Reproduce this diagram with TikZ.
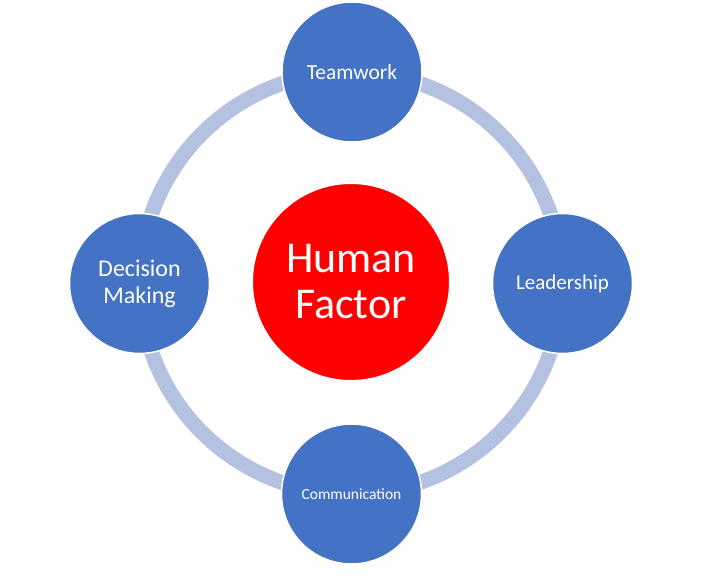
\documentclass[tikz,border=0pt]{standalone}
\usepackage{fontspec}
\setmainfont{Carlito}
\definecolor{satblue}{HTML}{4472C4}
\definecolor{ringblue}{HTML}{B4C1E1}
\definecolor{hfred}{HTML}{FF0000}
\tikzset{
  sat/.style={circle, fill=satblue, draw=white, line width=1.5pt, minimum size=140pt, inner sep=0pt, text=white, align=center},
  core/.style={circle, fill=hfred, draw=white, line width=1pt, minimum size=197pt, inner sep=0pt, text=white, align=center},
  ringline/.style={draw=ringblue, line width=15pt}
}
\begin{document}
\begin{tikzpicture}[x=1pt,y=-1pt]
\useasboundingbox[fill=white] (0,0) rectangle (725,586);
\coordinate (ctr) at (351,283);
\draw[ringline] (ctr) circle[radius=211];
\node[core, font=\fontsize{44}{46}\selectfont] (hf) at (351,282) {Human\\Factor};
\node[sat, font=\fontsize{21.5}{24}\selectfont] (tw) at (352,72) {Teamwork};
\node[sat, font=\fontsize{21}{24}\selectfont] (ld) at (562.5,283.5) {Leadership};
\node[sat, font=\fontsize{24}{27}\selectfont] (dm) at (139.5,283.5) {Decision\\Making};
\node[sat, font=\fontsize{15.5}{18}\selectfont] (cm) at (351.5,494) {Communication};
\end{tikzpicture}
\end{document}
